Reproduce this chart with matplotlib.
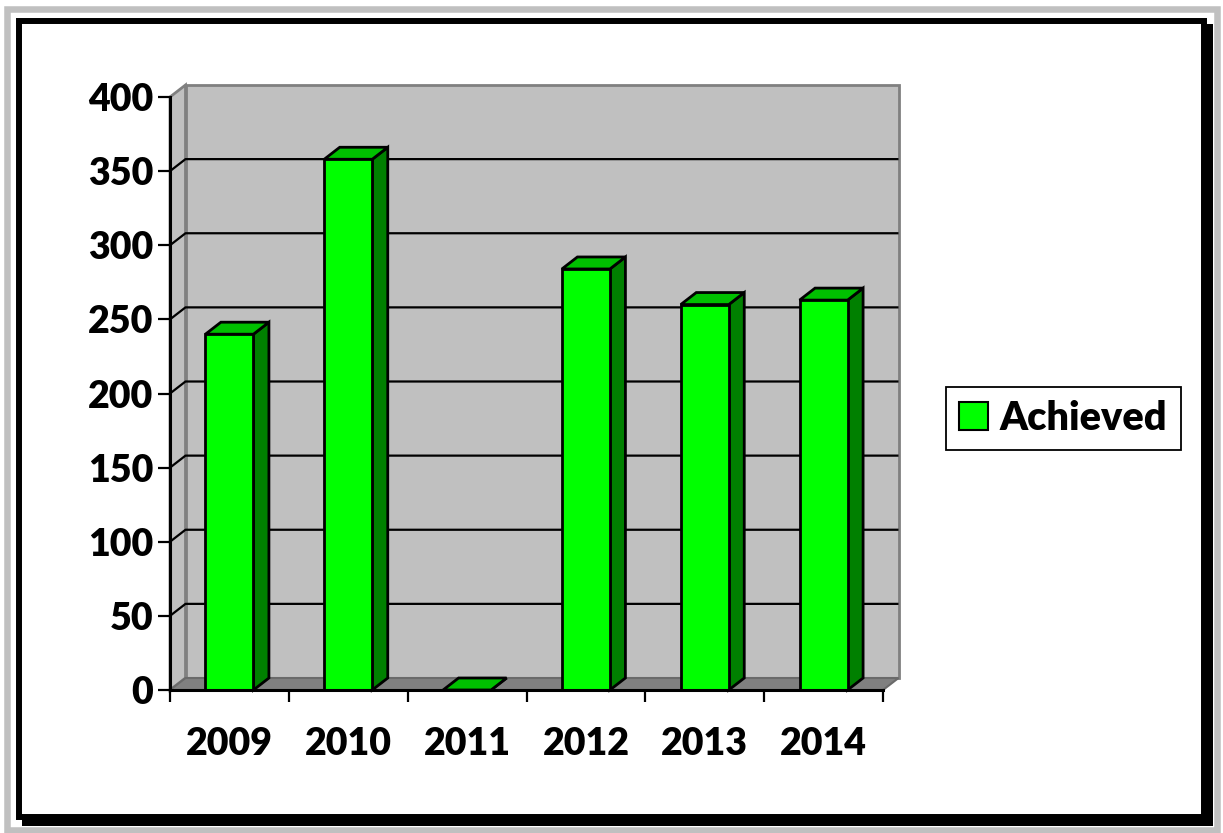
import matplotlib
matplotlib.use("Agg")
import matplotlib.pyplot as plt
from matplotlib.patches import Polygon, Rectangle, Patch
from matplotlib.ticker import FixedLocator, FixedFormatter, NullFormatter

# ---- data ----
years = ["2009", "2010", "2011", "2012", "2013", "2014"]
achieved = [240, 358, 0, 284, 260, 263]
y_ticks = [0, 50, 100, 150, 200, 250, 300, 350, 400]
series_name = "Achieved"

# ---- styling ----
FRONT = "#00ff00"
SIDE = "#008000"
TOP = "#00c000"
WALL = "#c0c0c0"
FLOOR = "#808080"
WALL_EDGE = "#808080"
FS = 27
WEIGHT = "heavy"

plt.rcParams['font.family'] = ['Lato', 'DejaVu Sans']
plt.rcParams['font.weight'] = WEIGHT

W, H = 1223, 833
fig = plt.figure(figsize=(W / 100, H / 100), dpi=100)
fig.patch.set_facecolor("white")


def px_rect(x_left, y_top, x_right, y_bottom, **kw):
    """Rectangle given in pixel coordinates measured from the top-left."""
    return Rectangle((x_left / W, (H - y_bottom) / H),
                     (x_right - x_left) / W, (y_bottom - y_top) / H,
                     transform=fig.transFigure, zorder=-10, **kw)


# outer frame: grey border, black shadow, black border
fig.add_artist(px_rect(7, 9, 1216.5, 830, facecolor="none",
                       edgecolor="#c0c0c0", linewidth=4.7))
fig.add_artist(px_rect(22, 24, 1213, 826, facecolor="black",
                       edgecolor="none"))
fig.add_artist(px_rect(19, 21, 1204, 817, facecolor="white",
                       edgecolor="black", linewidth=4.3))

# front plane of the 3-D plot
x0, x1 = 170, 883
y0, y1 = 690, 97
ax = fig.add_axes([x0 / W, (H - y0) / H, (x1 - x0) / W, (y0 - y1) / H])
n = len(years)
ax.set_xlim(-0.5, n - 0.5)
ax.set_ylim(y_ticks[0], y_ticks[-1])
ax.patch.set_visible(False)

# depth of the oblique projection in data units
DX = 15.5 / ((x1 - x0) / n)
DY = 12.0 / ((y0 - y1) / (y_ticks[-1] - y_ticks[0]))
xl, xr = -0.5, n - 0.5
ymin, ymax = y_ticks[0], y_ticks[-1]


def poly(pts, **kw):
    p = Polygon(pts, closed=True, clip_on=False, **kw)
    ax.add_patch(p)
    return p


# back wall, side wall and floor
poly([(xl + DX, ymin + DY), (xr + DX, ymin + DY), (xr + DX, ymax + DY),
      (xl + DX, ymax + DY)], facecolor=WALL, edgecolor=WALL_EDGE,
     linewidth=2.0, zorder=1)
poly([(xl, ymin), (xl + DX, ymin + DY), (xl + DX, ymax + DY), (xl, ymax)],
     facecolor=WALL, edgecolor=WALL_EDGE, linewidth=2.0, zorder=1)
poly([(xl, ymin), (xr, ymin), (xr + DX, ymin + DY), (xl + DX, ymin + DY)],
     facecolor=FLOOR, edgecolor="#6a6a6a", linewidth=1.5, zorder=1.5)

# gridlines on the back wall and side wall
for v in y_ticks[1:-1]:
    ax.plot([xl, xl + DX, xr + DX], [v, v + DY, v + DY], color="black",
            linewidth=1.6, clip_on=False, zorder=2, solid_capstyle="butt")

# bars
hw = 0.202
for i, v in enumerate(achieved):
    kw = dict(edgecolor="black", linewidth=2.0, joinstyle="miter")
    poly([(i + hw, 0), (i + hw + DX, DY), (i + hw + DX, v + DY), (i + hw, v)],
         facecolor=SIDE, zorder=3, **kw)
    poly([(i - hw, v), (i + hw, v), (i + hw + DX, v + DY), (i - hw + DX, v + DY)],
         facecolor=TOP, zorder=3, **kw)
    if v > 0:
        poly([(i - hw, 0), (i + hw, 0), (i + hw, v), (i - hw, v)],
             facecolor=FRONT, zorder=4, **kw)

# axes lines and ticks
for s in ("top", "right"):
    ax.spines[s].set_visible(False)
for s in ("left", "bottom"):
    ax.spines[s].set_linewidth(2.2)
    ax.spines[s].set_zorder(5)
ax.spines["left"].set_bounds(ymin, ymax)

ax.yaxis.set_major_locator(FixedLocator(y_ticks))
ax.yaxis.set_major_formatter(FixedFormatter([str(t) for t in y_ticks]))
ax.tick_params(axis="y", direction="out", length=8.6, width=1.6,
               pad=3.5, labelsize=FS)

ax.xaxis.set_major_locator(FixedLocator([i - 0.5 for i in range(n + 1)]))
ax.xaxis.set_major_formatter(NullFormatter())
ax.xaxis.set_minor_locator(FixedLocator(list(range(n))))
ax.xaxis.set_minor_formatter(FixedFormatter(years))
ax.tick_params(axis="x", which="major", direction="out", length=8.6,
               width=1.6)
ax.tick_params(axis="x", which="minor", length=0, pad=26.5, labelsize=FS)
for lab in ax.get_xticklabels(minor=True) + ax.get_yticklabels():
    lab.set_fontweight(WEIGHT)

# legend
leg = fig.legend(handles=[Patch(facecolor=FRONT, edgecolor="black",
                                linewidth=1.5, label=series_name)],
                 loc="center left", bbox_to_anchor=(946 / W, 1 - 418.5 / H),
                 prop={"weight": WEIGHT, "size": 28.5},
                 handlelength=0.73, handleheight=0.72, handletextpad=0.3,
                 borderpad=0.33, borderaxespad=0, fancybox=False,
                 framealpha=1, edgecolor="black")
leg.get_frame().set_linewidth(1.3)

fig.savefig("out.png", dpi=100)
